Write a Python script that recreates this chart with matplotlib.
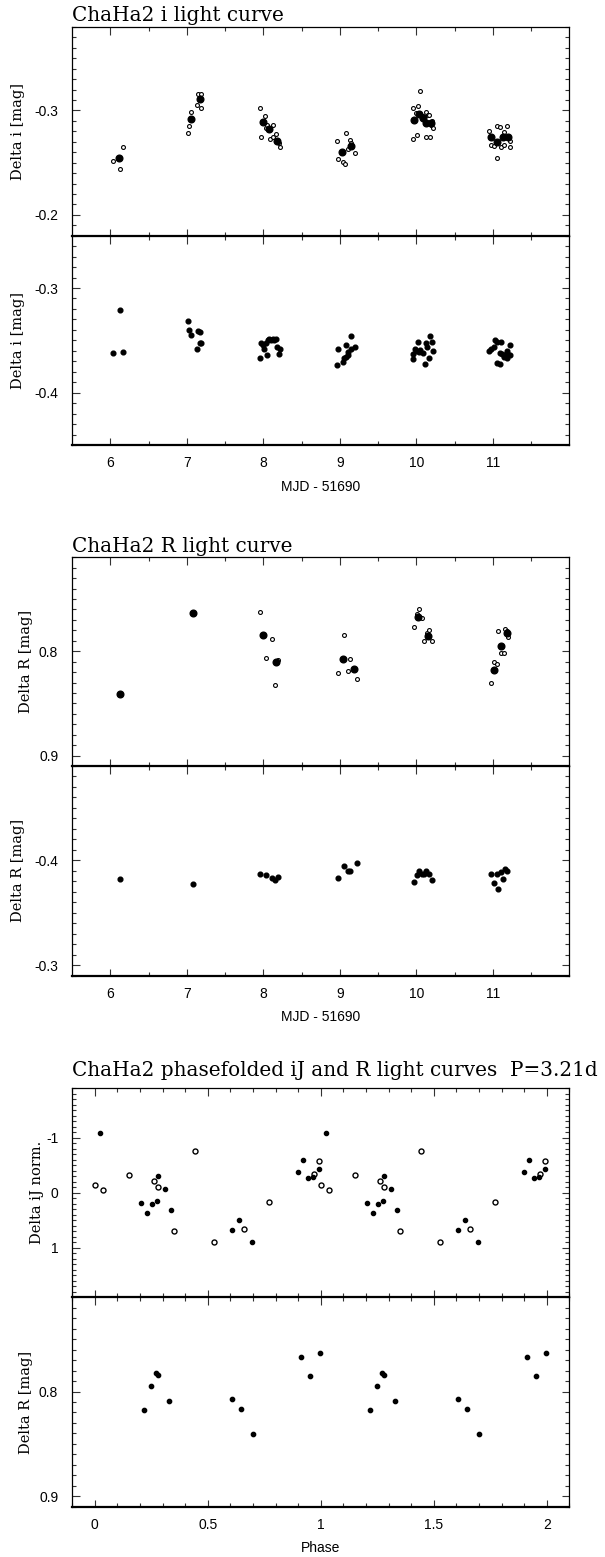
import numpy as np
import matplotlib
matplotlib.use("Agg")
import matplotlib.pyplot as plt
from matplotlib.ticker import MultipleLocator, FixedLocator, FuncFormatter

plt.rcParams['axes.unicode_minus'] = False
plt.rcParams['font.family'] = ['Liberation Sans', 'DejaVu Sans']

# ---------------- data: i band ----------------
i_mean_mjd = [6.11, 7.06, 7.17, 7.99, 8.08, 8.18, 9.03, 9.14, 9.97, 10.04, 10.08, 10.12, 10.19,
              10.97, 11.05, 11.13, 11.20]
i_mean_mag = [-0.254, -0.292, -0.311, -0.2885, -0.282, -0.271, -0.260, -0.2656, -0.2908, -0.2968,
              -0.2927, -0.2876, -0.2879, -0.2745, -0.2694, -0.2742, -0.2748]

i_single_mjd = [6.03, 6.13, 6.16,
                7.02, 7.03, 7.06, 7.13, 7.14, 7.18, 7.18,
                7.95, 7.97, 8.02, 8.03, 8.05, 8.09, 8.13, 8.13, 8.16, 8.20, 8.22,
                8.96, 8.97, 9.04, 9.08, 9.07, 9.11, 9.13, 9.14, 9.20,
                9.95, 9.96, 10.00, 10.01, 10.02, 10.05, 10.08, 10.12, 10.13, 10.15, 10.17, 10.18,
                10.19, 10.21, 10.22,
                10.95, 10.98, 11.02, 11.05, 11.06, 11.09, 11.11, 11.15, 11.15, 11.19, 11.22, 11.23]
i_single_mag = [-0.2513, -0.2443, -0.2653,
                -0.2783, -0.2854, -0.2984, -0.3054, -0.3162, -0.3162, -0.3022,
                -0.3025, -0.2745, -0.2946, -0.2834, -0.2863, -0.2723, -0.2863, -0.2748, -0.2774,
                -0.2685, -0.2646,
                -0.2704, -0.2535, -0.2510, -0.2783, -0.2490, -0.2627, -0.2720, -0.2691, -0.2592,
                -0.2723, -0.3025, -0.2975, -0.2764, -0.3041, -0.3188, -0.2949, -0.2981, -0.2748,
                -0.2959, -0.2955, -0.2748, -0.2863, -0.2901, -0.2834,
                -0.2803, -0.2672, -0.2662, -0.2541, -0.2854, -0.2844, -0.2653, -0.2669, -0.2793,
                -0.2854, -0.2707, -0.2653]

i_comp_mjd = [6.04, 6.13, 6.16,
              7.02, 7.03, 7.05, 7.13, 7.15, 7.17, 7.17, 7.19,
              7.95, 7.97, 7.99, 8.01, 8.03, 8.05, 8.06, 8.08, 8.10, 8.12, 8.14, 8.16, 8.18, 8.21, 8.22,
              8.96, 8.97, 9.04, 9.05, 9.08, 9.08, 9.10, 9.11, 9.14, 9.14, 9.20,
              9.95, 9.96, 9.98, 10.00, 10.02, 10.03, 10.05, 10.08, 10.11, 10.12, 10.14, 10.17, 10.18,
              10.21, 10.22,
              10.95, 10.98, 11.01, 11.03, 11.06, 11.06, 11.09, 11.11, 11.09, 11.12, 11.15, 11.18,
              11.19, 11.22, 11.23, 11.19]
i_comp_mag = [-0.3619, -0.3213, -0.3610,
              -0.3311, -0.3397, -0.3448, -0.3581, -0.3410, -0.3419, -0.3530, -0.3521,
              -0.3670, -0.3530, -0.3549, -0.3584, -0.3530, -0.3641, -0.3498, -0.3483, -0.3498,
              -0.3483, -0.3498, -0.3489, -0.3562, -0.3632, -0.3581,
              -0.3740, -0.3581, -0.3711, -0.3670, -0.3543, -0.3657, -0.3638, -0.3610, -0.3587,
              -0.3460, -0.3562,
              -0.3679, -0.3635, -0.3581, -0.3600, -0.3511, -0.3613, -0.3594, -0.3625, -0.3727,
              -0.3524, -0.3568, -0.3670, -0.3460, -0.3511, -0.3597,
              -0.3600, -0.3578, -0.3568, -0.3498, -0.3517, -0.3721, -0.3730, -0.3517, -0.3619,
              -0.3632, -0.3663, -0.3600, -0.3625, -0.3546, -0.3638, -0.3673]

# ---------------- data: R band ----------------
R_mean_mjd = [6.13, 7.08, 8.00, 8.16, 9.04, 9.18, 10.02, 10.15, 11.01, 11.10, 11.18]
R_mean_mag = [0.8411, 0.7634, 0.7844, 0.8099, 0.8076, 0.8169, 0.7672, 0.7857, 0.8178, 0.7949, 0.7825]

R_single_mjd = [7.96, 8.11, 8.04, 8.19, 8.15,
                8.97, 9.06, 9.10, 9.13, 9.23,
                9.97, 10.01, 10.04, 10.07, 10.10, 10.14, 10.16, 10.20,
                10.97, 11.01, 11.05, 11.07, 11.11, 11.15, 11.16, 11.18, 11.20]
R_single_mag = [0.7624, 0.7882, 0.8061, 0.8083, 0.8322,
                0.8204, 0.7844, 0.8185, 0.8073, 0.8264,
                0.7764, 0.7646, 0.7596, 0.7685, 0.7904, 0.7825, 0.7793, 0.7904,
                0.8303, 0.8102, 0.8124, 0.7803, 0.8019, 0.8019, 0.7783, 0.7809, 0.7863]

R_comp_mjd = [6.12, 7.08, 7.96, 8.04, 8.11, 8.15, 8.19,
              8.97, 9.06, 9.10, 9.13, 9.23,
              9.97, 10.01, 10.04, 10.07, 10.10, 10.13, 10.16, 10.20,
              10.97, 11.01, 11.05, 11.07, 11.10, 11.13, 11.16, 11.19]
R_comp_mag = [-0.3822, -0.3771, -0.3873, -0.3860, -0.3835, -0.3810, -0.3841,
              -0.3832, -0.3949, -0.3902, -0.3902, -0.3971,
              -0.3790, -0.3860, -0.3902, -0.3873, -0.3873, -0.3902, -0.3870, -0.3810,
              -0.3870, -0.3781, -0.3870, -0.3730, -0.3892, -0.3822, -0.3921, -0.3902]

# ---------------- data: phase folded ----------------
iJ_filled_phase = [0.024, 0.206, 0.230, 0.254, 0.277, 0.280, 0.310, 0.339, 0.606, 0.639, 0.697,
                   0.898, 0.921, 0.943, 0.966, 0.993]
iJ_filled_mag = [-1.094, 0.188, 0.365, 0.200, 0.158, -0.310, -0.073, 0.304, 0.681, 0.486, 0.900,
                 -0.383, -0.590, -0.274, -0.292, -0.426]
iJ_open_phase = [0.000, 0.036, 0.150, 0.262, 0.282, 0.349, 0.442, 0.528, 0.659, 0.771, 0.972, 0.993]
iJ_open_mag = [-0.146, -0.055, -0.322, -0.213, -0.103, 0.693, -0.754, 0.894, 0.650, 0.176,
               -0.334, -0.571]
R_phase = [0.216, 0.249, 0.271, 0.282, 0.328, 0.608, 0.649, 0.701, 0.911, 0.952, 0.998]
R_phase_mag = [0.8175, 0.7949, 0.7819, 0.7841, 0.8095, 0.8073, 0.8165, 0.8410, 0.7670, 0.7854,
               0.7632]

mjd_ticks = [6, 7, 8, 9, 10, 11]
phase_ticks = [0, 0.5, 1, 1.5, 2]

# ---------------- layout ----------------
W, H = 605, 1557
fig = plt.figure(figsize=(W / 100, H / 100), dpi=100)
L = 72.1 / W
AW = 497.3 / W


def make_ax(top_px, bot_px):
    return fig.add_axes([L, 1 - bot_px / H, AW, (bot_px - top_px) / H])


SERIF = ['DejaVu Serif']
TICKFONT = 10


def style(ax, ylim, ymaj, ymin, xkind, show_xlabels, ylabel, ylab_x):
    if xkind == 'mjd':
        ax.set_xlim(5.5, 12.0)
        ax.xaxis.set_major_locator(FixedLocator(mjd_ticks))
        ax.xaxis.set_minor_locator(FixedLocator([t + 0.5 for t in mjd_ticks]))
    else:
        ax.set_xlim(-0.1, 2.1)
        ax.xaxis.set_major_locator(FixedLocator(phase_ticks))
        ax.xaxis.set_minor_locator(MultipleLocator(0.1))
    ax.set_ylim(*ylim)
    ax.yaxis.set_major_locator(MultipleLocator(ymaj))
    ax.yaxis.set_minor_locator(MultipleLocator(ymin))
    fmt = FuncFormatter(lambda v, p: ('%g' % round(v, 6)))
    ax.xaxis.set_major_formatter(fmt)
    ax.yaxis.set_major_formatter(fmt)
    ax.tick_params(which='both', direction='in', top=True, right=True, color='#333333',
                   width=0.8, labelsize=TICKFONT)
    ax.tick_params(which='major', length=5.4)
    ax.tick_params(which='minor', length=3.0)
    ax.tick_params(axis='x', which='major', pad=8)
    ax.tick_params(axis='y', which='major', pad=10)
    if not show_xlabels:
        ax.tick_params(axis='x', labelbottom=False)
    for s in ['left', 'right', 'top']:
        ax.spines[s].set_linewidth(0.9)
    ax.spines['bottom'].set_linewidth(1.6)
    ax.set_ylabel(ylabel, family=SERIF, fontsize=10.5, rotation=90, va='center', ha='center',
                  rotation_mode='default')
    ax.yaxis.set_label_coords((ylab_x - 72.1) / 497.3, 0.5)


def title(text, base_px):
    fig.text(L, 1 - base_px / H, text, family=SERIF, fontsize=14.4, ha='left', va='baseline')


# Panel 1: i light curve
ax1 = make_ax(27.0, 235.7)
ax1.plot(i_single_mjd, i_single_mag, 'o', mfc='white', mec='black', ms=2.8, mew=0.8, ls='none')
ax1.plot(i_mean_mjd, i_mean_mag, 'o', color='black', ms=4.8, ls='none')
style(ax1, (-0.18, -0.38), 0.1, 0.01, 'mjd', False, 'Delta i [mag]', 17.5)
title('ChaHa2 i light curve', 21)

# Panel 2: i comparison
ax2 = make_ax(235.7, 445.0)
ax2.plot(i_comp_mjd, i_comp_mag, 'o', color='black', ms=3.4, ls='none')
style(ax2, (-0.45, -0.25), 0.1, 0.01, 'mjd', True, 'Delta i [mag]', 17.5)
ax2.set_xlabel('MJD - 51690', fontsize=10)
ax2.xaxis.set_label_coords(0.5, -0.165)

# Panel 3: R light curve
ax3 = make_ax(557.3, 766.0)
ax3.plot(R_single_mjd, R_single_mag, 'o', mfc='white', mec='black', ms=2.8, mew=0.8, ls='none')
ax3.plot(R_mean_mjd, R_mean_mag, 'o', color='black', ms=4.8, ls='none')
style(ax3, (0.91, 0.71), 0.1, 0.01, 'mjd', False, 'Delta R [mag]', 26.4)
title('ChaHa2 R light curve', 552)

# Panel 4: R comparison
ax4 = make_ax(766.0, 975.7)
ax4.plot(R_comp_mjd, R_comp_mag, 'o', color='black', ms=3.4, ls='none')
style(ax4, (-0.29, -0.49), 0.1, 0.01, 'mjd', True, 'Delta R [mag]', 17.5)
ax4.set_xlabel('MJD - 51690', fontsize=10)
ax4.xaxis.set_label_coords(0.5, -0.165)

# Panel 5: phase folded iJ
ax5 = make_ax(1088.3, 1297.3)
pf = np.asarray(iJ_filled_phase)
po = np.asarray(iJ_open_phase)
ax5.plot(np.concatenate([po, po + 1]), np.concatenate([iJ_open_mag, iJ_open_mag]), 'o',
         mfc='white', mec='black', ms=3.6, mew=1.0, ls='none')
ax5.plot(np.concatenate([pf, pf + 1]), np.concatenate([iJ_filled_mag, iJ_filled_mag]), 'o',
         color='black', ms=3.0, ls='none')
style(ax5, (1.9, -1.9), 1, 0.1, 'phase', False, 'Delta iJ norm.', 37.2)
title('ChaHa2 phasefolded iJ and R light curves  P=3.21d', 1076)

# Panel 6: phase folded R
ax6 = make_ax(1297.3, 1506.7)
pr = np.asarray(R_phase)
ax6.plot(np.concatenate([pr, pr + 1]), np.concatenate([R_phase_mag, R_phase_mag]), 'o',
         color='black', ms=3.1, ls='none')
style(ax6, (0.91, 0.71), 0.1, 0.01, 'phase', True, 'Delta R [mag]', 26.4)
ax6.set_xlabel('Phase', fontsize=10)
ax6.xaxis.set_label_coords(0.5, -0.165)

fig.savefig('out.png', dpi=100)
